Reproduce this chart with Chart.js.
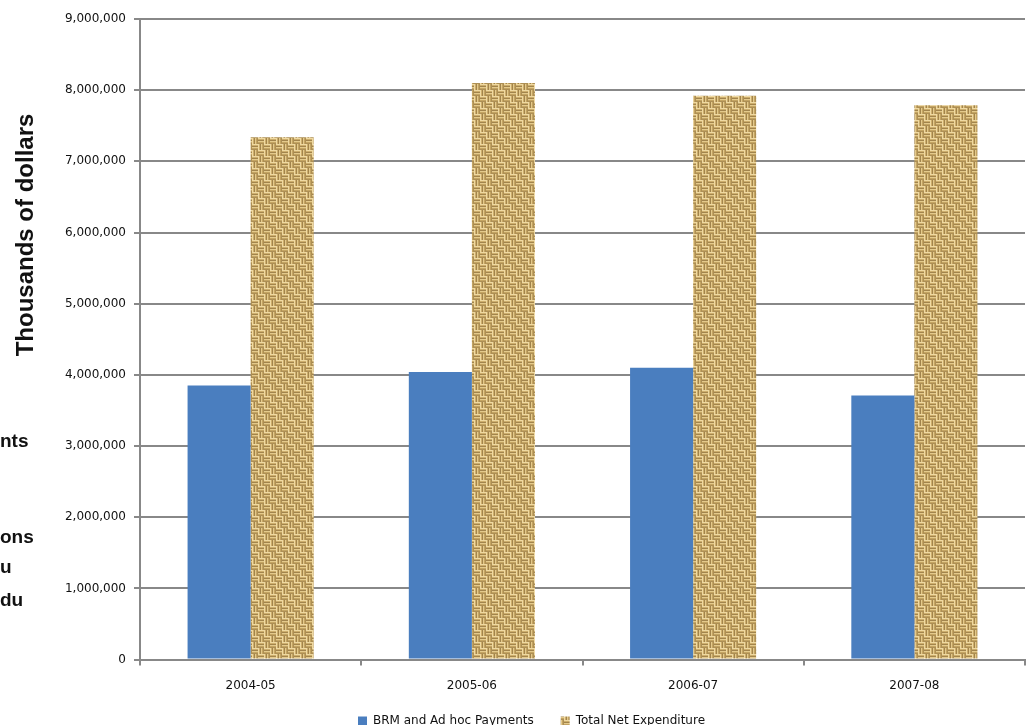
<!DOCTYPE html>
<html>
<head>
<meta charset="utf-8">
<script src="https://cdn.jsdelivr.net/npm/chart.js@4/dist/chart.umd.min.js"></script>
<style>
  html, body { margin: 0; padding: 0; background: #fff; overflow: hidden; }
  #wrap { position: relative; width: 1029px; height: 725px; overflow: hidden; }
  #chart-box { position: absolute; left: 0; top: 0; width: 1029px; height: 739px; }
  .side { position: absolute; font-family: "Liberation Sans", Arial, sans-serif; font-weight: bold; color: #111; }
  #ytitle { left: 25px; top: 235px; font-size: 24px; transform: translate(-50%, -50%) rotate(-90deg); white-space: nowrap; }
  .frag { left: 0; font-size: 19px; }
</style>
</head>
<body>
<div id="wrap">
  <div id="chart-box"><canvas id="bar-chart" width="1029" height="739"></canvas></div>
  <div class="side" id="ytitle">Thousands of dollars</div>
  <div class="side frag" style="top:430px">nts</div>
  <div class="side frag" style="top:526px">ons</div>
  <div class="side frag" style="top:556px">u</div>
  <div class="side frag" style="top:589px">du</div>
</div>
<script>

// values (thousands of dollars)
var years = ["2004-05", "2005-06", "2006-07", "2007-08"]
var brmPayments = [3850000, 4040000, 4100000, 3710000]
var netExpenditure = [7340000, 8100000, 7920000, 7790000]

/// burlap looking fill for the expenditure bars (basket weave tile)
function weavePattern() {
  var c = document.createElement("canvas")
  c.width = 12
  c.height = 12
  var g = c.getContext("2d")
  var stripe = ["#efd9a2", "#cdae6c", "#a2844c", "#e4ca8c", "#c4a462", "#ad8f55"]
  for (var by = 0; by < 2; by++) {
    for (var bx = 0; bx < 2; bx++) {
      var flat = (bx + by) % 2 == 0
      for (var i = 0; i < 6; i++) {
        g.fillStyle = stripe[i]
        if (flat) g.fillRect(bx * 6, by * 6 + i, 6, 1)
        else g.fillRect(bx * 6 + i, by * 6, 1, 6)
      }
    }
  }
  return g.createPattern(c, "repeat")
}

// the legend in the picture sits a bit right of centre and slightly higher
var nudgeLegend = {
  id: 'nudgeLegend',
  afterLayout: function (chart) {
    chart.legend.left += 19
    chart.legend.right += 19
    chart.legend.top -= 2
    chart.legend.bottom -= 2
  }
}

var tickFont = { family: "'DejaVu Sans', Verdana, sans-serif", size: 12 }

new Chart(document.getElementById("bar-chart"), {
  type: 'bar',
  data: {
    labels: years,
    datasets: [{
        label: "BRM and Ad hoc Payments",
        backgroundColor: "#4a7ebf",
        data: brmPayments
      }, {
        label: "Total Net Expenditure",
        backgroundColor: weavePattern(),
        data: netExpenditure
      }
    ]
  },
  plugins: [nudgeLegend],
  options: {
    responsive: false,
    animation: false,
    layout: { padding: { left: 0, right: 4, top: 19, bottom: 0 } },
    datasets: { bar: { categoryPercentage: 0.57, barPercentage: 1.0 } },
    plugins: {
      legend: {
        position: 'bottom',
        labels: {
          boxWidth: 9, boxHeight: 9, padding: 27,
          color: "#111",
          font: { family: "'DejaVu Sans', Verdana, sans-serif", size: 12 }
        }
      },
      tooltip: { enabled: false }
    },
    scales: {
      x: {
        afterFit: function (s) { s.height = s.height - 16 },
        grid: { offset: true, drawOnChartArea: false, color: "#888", lineWidth: 2, tickLength: 6 },
        border: { color: "#888", width: 2 },
        ticks: { color: "#111", font: tickFont, padding: 13 }
      },
      y: {
        min: 0,
        max: 9000000,
        afterFit: function (s) { s.width = 140 },
        grid: { color: "#888", lineWidth: 2, tickLength: 6 },
        border: { color: "#888", width: 2 },
        ticks: {
          stepSize: 1000000,
          color: "#111",
          font: tickFont,
          padding: 8,
          callback: function (v) { return v.toLocaleString("en-US") }
        }
      }
    }
  }
})
</script>
</body>
</html>
